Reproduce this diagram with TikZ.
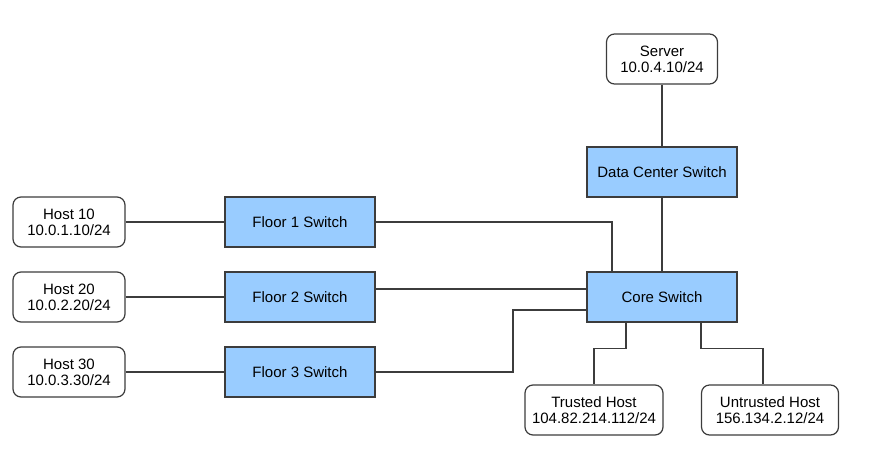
\documentclass[tikz,border=0pt]{standalone}
\usepackage{fontspec}
\setmainfont{Liberation Sans}
\definecolor{switchblue}{HTML}{99CCFF}
\definecolor{edgegray}{HTML}{3C3C3C}
\begin{document}
\begin{tikzpicture}[x=1pt, y=-1pt,
	host/.style={draw=edgegray, line width=1.2pt, rounded corners=8pt, fill=white,
		align=center, minimum height=50pt, inner sep=0pt,
		font=\fontsize{15}{16}\selectfont},
	switchbox/.style={draw=edgegray, line width=1.2pt, fill=switchblue,
		minimum width=150pt, minimum height=50pt, inner sep=0pt,
		font=\fontsize{15}{16}\selectfont},
	link/.style={draw=edgegray, line width=1.2pt}]

\useasboundingbox (0, 0) rectangle (869, 463);

\node[host, minimum width=111pt] (server) at (662, 59) {Server\\10.0.4.10/24};
\node[switchbox] (dc) at (662, 172) {Data Center Switch};
\node[switchbox] (core) at (662, 297) {Core Switch};

\foreach \n in {1, 2, 3} {
	\node[host, minimum width=112pt] (h\n) at (69, 147 + 75*\n) {Host \n0\\10.0.\n.\n0/24};
	\node[switchbox] (f\n) at (300, 147 + 75*\n) {Floor \n\ Switch};
	\draw[link] (h\n) -- (f\n);
}

\node[host, minimum width=138pt] (trusted) at (594, 410) {Trusted Host\\104.82.214.112/24};
\node[host, minimum width=137pt] (untrusted) at (770, 410) {Untrusted Host\\156.134.2.12/24};

\draw[link] (server) -- (dc);
\draw[link] (dc) -- (core);

\draw[link] (f1.east) -| ([xshift=-50pt]core.north);
\draw[link] ([yshift=8pt]f2.east) -- ([yshift=8pt]core.west);
\coordinate (bend3) at (513, 372);
\draw[link] (f3.east) -- (bend3) |- ([yshift=-13pt]core.west);

\draw[link] ([xshift=-36pt]core.south) -- ++(0, 26) -| (trusted.north);
\draw[link] ([xshift=39pt]core.south) -- ++(0, 26) -| ([xshift=-7pt]untrusted.north);

\end{tikzpicture}
\end{document}
